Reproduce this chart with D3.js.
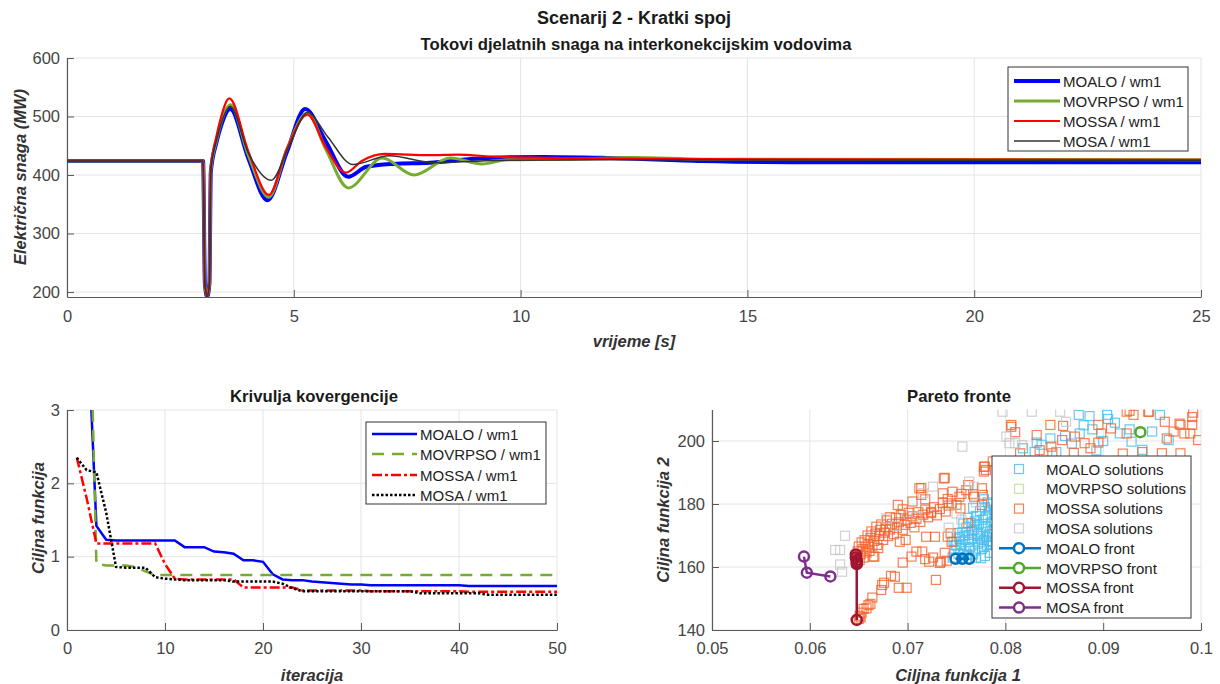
<!DOCTYPE html>
<html><head><meta charset="utf-8">
<script src="https://cdn.jsdelivr.net/npm/d3@7"></script>
<style>body{margin:0;background:#fff;} svg{display:block;font-family:"Liberation Sans",Arial,Helvetica,sans-serif;}</style>
</head><body><svg id="c" width="1220" height="684"></svg>
<script>
// ---------------- DATA ----------------
// Top: active power flow (MW) vs time (s)
const tMOALO   = [0, 3.0, 3.04, 3.09, 3.14, 3.17, 3.3, 3.4, 3.6, 4.0, 4.42, 4.85, 5.25, 5.7, 6.2, 6.6, 7.2, 8.0, 9.0, 10.5, 12, 14, 16, 25];
const pMOALO   = [424, 424, 215, 192, 215, 405, 457, 485, 513, 428, 357, 440, 513, 458, 397, 414, 419, 421, 428, 431, 429, 424, 422, 422];
const tMOVRPSO = [0, 3.0, 3.04, 3.09, 3.14, 3.17, 3.3, 3.4, 3.6, 4.0, 4.45, 4.85, 5.3, 5.7, 6.2, 6.95, 7.65, 8.45, 9.15, 9.7, 11, 12.5, 14, 25];
const pMOVRPSO = [424, 424, 215, 192, 215, 408, 460, 490, 520, 433, 362, 445, 506, 445, 378, 429, 400, 429, 419, 426, 427, 430, 427, 426];
const tMOSSA   = [0, 3.0, 3.04, 3.09, 3.14, 3.17, 3.3, 3.4, 3.58, 4.0, 4.45, 4.85, 5.3, 5.7, 6.15, 6.5, 7.0, 8.0, 8.6, 9.5, 11, 14, 25];
const pMOSSA   = [424, 424, 215, 192, 215, 410, 468, 500, 531, 440, 366, 445, 503, 448, 404, 424, 436, 434, 435, 431, 429, 427, 426];
const tMOSA    = [0, 3.0, 3.04, 3.09, 3.14, 3.17, 3.3, 3.4, 3.6, 4.0, 4.5, 4.9, 5.3, 5.75, 6.3, 7.1, 8.1, 9.5, 12, 25];
const pMOSA    = [424, 424, 215, 192, 215, 408, 460, 488, 517, 437, 391, 450, 507, 465, 418, 433, 421, 425, 426, 425];
const timeTicks  = [0, 5, 10, 15, 20, 25];
const powerTicks = [200, 300, 400, 500, 600];

// Bottom-left: convergence curves
const iterations = [1,2,3,4,5,6,7,8,9,10,11,12,13,14,15,16,17,18,19,20,21,22,23,24,25,26,27,28,29,30,31,32,33,34,35,36,37,38,39,40,41,42,43,44,45,46,47,48,49,50];
const convMOALO   = [7.0,4.5,1.42,1.23,1.22,1.22,1.22,1.22,1.22,1.22,1.22,1.13,1.13,1.13,1.07,1.06,1.04,0.95,0.95,0.93,0.76,0.69,0.68,0.68,0.66,0.65,0.64,0.63,0.62,0.62,0.61,0.61,0.61,0.61,0.61,0.61,0.61,0.61,0.61,0.61,0.60,0.60,0.60,0.60,0.60,0.60,0.60,0.60,0.60,0.60];
const convMOVRPSO = [12.0,6.5,0.90,0.88,0.88,0.88,0.86,0.80,0.75,0.75,0.75,0.75,0.75,0.75,0.75,0.75,0.75,0.75,0.75,0.75,0.75,0.75,0.75,0.75,0.75,0.75,0.75,0.75,0.75,0.75,0.75,0.75,0.75,0.75,0.75,0.75,0.75,0.75,0.75,0.75,0.75,0.75,0.75,0.75,0.75,0.75,0.75,0.75,0.75,0.75];
const convMOSSA   = [2.35,1.80,1.18,1.18,1.18,1.18,1.18,1.18,1.18,0.90,0.70,0.69,0.69,0.69,0.69,0.69,0.69,0.58,0.58,0.58,0.58,0.58,0.58,0.54,0.54,0.54,0.54,0.54,0.54,0.54,0.53,0.53,0.53,0.53,0.53,0.53,0.53,0.53,0.53,0.53,0.52,0.52,0.52,0.52,0.52,0.52,0.52,0.52,0.52,0.52];
const convMOSA    = [2.35,2.18,2.15,1.60,0.86,0.85,0.85,0.85,0.72,0.70,0.69,0.68,0.68,0.68,0.68,0.68,0.66,0.66,0.66,0.66,0.66,0.63,0.57,0.53,0.53,0.53,0.53,0.53,0.53,0.53,0.53,0.53,0.53,0.53,0.53,0.50,0.50,0.50,0.50,0.50,0.50,0.50,0.48,0.48,0.48,0.48,0.48,0.48,0.48,0.48];
const iterTicks = [0, 10, 20, 30, 40, 50];
const convTicks = [0, 1, 2, 3];

// Bottom-right: Pareto fronts
const moaloSolF1 = [0.0746,0.0748,0.0747,0.0750,0.0752,0.0753,0.0755,0.0756,0.0758,0.0759,0.0760,0.0761,0.0763,0.0764,0.0765,0.0766,0.0768,0.0769,0.0770,0.0771,0.0772,0.0773,0.0774,0.0775,0.0776,0.0777,0.0778,0.0779,0.0780,0.0781,0.0782,0.0783,0.0784,0.0785,0.0786,0.0787,0.0788,0.0789,0.0760,0.0770,0.0757,0.0767,0.0779,0.0784,0.0751,0.0762,0.0775,0.0786,
  0.0749,0.0754,0.0758,0.0762,0.0766,0.0771,0.0774,0.0778,0.0781,0.0785,0.0788,0.0753,0.0757,0.0763,0.0767,0.0772,0.0776,0.0780,0.0783,0.0787,0.0769,0.0782,0.0778,0.0790,
  0.0875,0.0886,0.0904,0.0905,0.0958,0.0889,0.0876,0.0927,0.0950,0.0929,0.0917,0.0967,0.0832,0.0846,0.0861,0.0818,0.0837,0.0868,0.0900,0.0852,0.0893,0.0940,0.0880,0.0912,0.0830];
const moaloSolF2 = [163.0,165.5,168.0,166.8,164.2,169.5,167.2,171.0,165.0,168.6,172.5,163.8,170.2,166.3,174.0,168.9,172.0,165.2,176.2,169.8,167.4,173.6,177.8,171.2,165.8,175.0,168.5,179.0,172.8,166.9,176.5,170.3,178.2,174.1,168.0,180.0,172.0,176.8,162.6,163.0,173.8,178.8,163.5,164.5,170.8,175.6,162.8,171.5,
  167.0,166.0,170.0,168.0,171.5,172.8,169.0,166.5,169.5,167.0,174.5,169.0,164.0,165.8,164.0,170.5,167.8,175.8,168.2,170.5,174.5,180.5,181.5,178.0,
  208.3,207.9,208.3,207.0,208.3,203.7,202.4,203.7,203.0,199.8,202.4,200.3,199.5,200.8,201.6,197.7,198.8,199.2,200.0,196.5,197.0,197.2,205.0,205.8,196.5];
const movrpsoSolF1 = [0.0938];
const movrpsoSolF2 = [202.8];
const mossaSolF1 = [0.0650,0.0652,0.0651,0.0653,0.0655,0.0658,0.0660,0.0662,0.0664,0.0673,0.0674,0.0676,0.0683,0.0687,0.0691,0.0699,0.0695,0.0704,0.0715,0.0718,0.0726,0.0729,0.0733,0.0740,0.0738,
  0.0648,0.0649,0.0650,0.0651,0.0652,0.0653,0.0654,0.0655,0.0656,0.0657,0.0658,0.0659,0.0660,0.0661,0.0662,0.0663,0.0664,0.0666,0.0667,0.0668,0.0669,0.0671,0.0672,0.0673,0.0675,0.0676,0.0678,0.0679,0.0680,0.0682,0.0684,0.0686,0.0688,0.0689,0.0691,0.0693,0.0695,0.0697,0.0699,0.0701,0.0703,0.0705,0.0707,0.0709,0.0711,0.0713,0.0716,0.0718,0.0721,0.0724,0.0727,0.0730,0.0733,0.0736,0.0739,0.0742,
  0.0690,0.0714,0.0714,0.0738,0.0724,0.0698,0.0692,0.0666,0.0670,0.0728,0.0734,0.0722,0.0744,0.0777,0.0776,0.0768,0.0754,0.0745,0.0746,0.0755,0.0736,0.0762,0.0778,0.0778,0.0737,0.0712,0.0682,0.0695,0.0705,0.0718,0.0741,0.0750,0.0760,0.0767,0.0776,0.0753,0.0762,0.0741,0.0745,0.0719,0.0709,0.0665,
  0.0806,0.0846,0.0924,0.0931,0.0946,0.0992,0.0979,0.0991,0.0895,0.0908,0.0898,0.0924,0.0963,0.0972,0.0989,0.0965,0.0832,0.0859,0.0871,0.0858,0.0881,0.0895,0.0815,0.0835,0.0847,0.0848,0.0887,0.0960,0.0979,0.0997,0.0983,0.0927,0.0947,0.0991,0.0978,0.0806,0.0940,0.0920,0.0870,0.0810,0.0787,0.0779,0.0780];
const mossaSolF2 = [143.5,144.0,144.5,145.5,146.7,146.9,147.9,148.3,150.3,152.7,154.3,155.0,157.2,156.9,153.4,153.4,161.4,163.3,164.9,162.5,163.0,155.9,161.3,162.0,164.5,
  163.5,165.0,166.5,162.2,164.0,167.8,165.6,163.0,168.5,166.4,164.6,170.0,167.3,165.1,169.2,171.3,166.8,168.3,170.6,172.8,167.0,169.9,171.8,173.5,168.6,170.9,172.6,174.8,169.8,171.9,173.7,170.4,175.6,172.4,174.2,176.5,171.8,173.4,175.0,177.2,174.0,176.1,172.6,175.3,177.4,174.3,176.6,178.2,175.8,177.5,179.0,176.4,178.4,180.3,177.6,179.5,
  179.7,185.1,182.9,188.3,177.1,168.6,168.0,163.3,166.0,169.6,161.7,161.7,170.7,182.9,179.7,182.3,178.6,180.2,183.9,183.2,183.4,186.0,191.8,190.3,188.1,185.0,175.8,178.3,180.8,181.5,181.6,179.7,184.4,183.1,185.0,182.3,173.9,169.6,168.0,169.6,164.9,163.3,
  205.1,205.1,209.3,208.3,209.3,209.0,205.1,205.1,205.1,204.0,202.4,202.4,206.1,203.0,202.4,200.8,201.9,204.8,201.4,200.3,199.3,199.5,196.1,197.1,198.2,196.1,197.7,196.1,196.1,200.3,202.4,209.6,209.3,207.6,205.5,204.5,196.5,196.0,196.2,202.8,193.5,191.9,190.8];
const mosaSolF1 = [0.0636,0.0626,0.0631,0.0631,0.0633,0.0756,0.0726,0.0763,0.0768,0.0716,0.0678,0.0797,0.0827,0.0856,0.0801,0.0810,0.0804,0.0817,0.0862,0.0755,0.0742,0.0770,0.0750,0.0709,0.0688];
const mosaSolF2 = [169.9,165.4,165.4,160.8,158.5,198.2,185.5,187.1,185.5,183.4,175.4,209.3,209.3,209.3,201.4,199.3,199.3,198.7,206.1,175.0,172.5,180.5,177.0,176.0,173.0];
const moaloFrontF1   = [0.0749, 0.0756, 0.0763];
const moaloFrontF2   = [162.6, 162.6, 162.6];
const movrpsoFrontF1 = [0.0938];
const movrpsoFrontF2 = [202.8];
const mossaFrontF1   = [0.0647, 0.0647, 0.0648, 0.0648, 0.0648, 0.0648];
const mossaFrontF2   = [164.0, 163.0, 162.2, 161.5, 160.9, 143.2];
const mosaFrontF1    = [0.0594, 0.0597, 0.0621];
const mosaFrontF2    = [163.3, 158.2, 157.0];
const f1Ticks = [0.05, 0.06, 0.07, 0.08, 0.09, 0.1];
const f2Ticks = [140, 160, 180, 200];

// ---------------- DRAWING ----------------
const svg = d3.select("#c");
const AX = "#5a5a5a", TXT = "#454545", GRID = "#e4e4e4";

function frame(x, y, xTicks, yTicks, xPad, clipId) {
  const g = svg.append("g");
  const [y0, y1] = y.range(), [x0, x1] = x.range();
  g.selectAll(".gx").data(xTicks).join("line")
    .attr("x1", d => x(d)).attr("x2", d => x(d)).attr("y1", y0).attr("y2", y1)
    .attr("stroke", GRID).attr("stroke-width", 1);
  g.selectAll(".gy").data(yTicks).join("line")
    .attr("x1", x0).attr("x2", x1).attr("y1", d => y(d)).attr("y2", d => y(d))
    .attr("stroke", GRID).attr("stroke-width", 1);
  const ax = g.append("g").attr("transform", `translate(0,${y0})`)
    .call(d3.axisBottom(x).tickValues(xTicks).tickFormat(d => String(d)).tickSizeInner(-7).tickSizeOuter(0).tickPadding(xPad));
  const ay = g.append("g").attr("transform", `translate(${x0},0)`)
    .call(d3.axisLeft(y).tickValues(yTicks).tickFormat(d => String(d)).tickSizeInner(-7).tickSizeOuter(0).tickPadding(7));
  [ax, ay].forEach(a => {
    a.select(".domain").attr("stroke", AX).attr("stroke-width", 1.2);
    a.selectAll(".tick line").attr("stroke", AX);
    a.selectAll(".tick text").attr("fill", TXT).attr("font-size", 16.5)
      .attr("font-family", '"Liberation Sans", Arial, sans-serif');
  });
  svg.append("clipPath").attr("id", clipId).append("rect")
    .attr("x", x0).attr("y", y1).attr("width", x1 - x0).attr("height", y0 - y1);
}

function text(x, y, s, opts = {}) {
  const t = svg.append("text").attr("x", x).attr("y", y).text(s)
    .attr("font-size", opts.size || 15).attr("fill", opts.fill || "#1a1a1a")
    .attr("text-anchor", opts.anchor || "middle")
    .attr("dominant-baseline", "central");
  if (opts.bold) t.attr("font-weight", "bold");
  if (opts.italic) t.attr("font-style", "italic");
  if (opts.rotate) t.attr("transform", `rotate(-90,${x},${y})`);
  return t;
}

// ---- Top panel ----
const xT = d3.scaleLinear().domain([0, 25]).range([67, 1201]);
const yT = d3.scaleLinear().domain([191.5, 600]).range([297, 58]);
frame(xT, yT, timeTicks, powerTicks, 13, "clipTop");
const topSeries = [
  {t: tMOALO, p: pMOALO, c: "#0000ff", w: 4, name: "MOALO / wm1"},
  {t: tMOVRPSO, p: pMOVRPSO, c: "#77ac30", w: 3, name: "MOVRPSO / wm1"},
  {t: tMOSSA, p: pMOSSA, c: "#ff0000", w: 2.2, name: "MOSSA / wm1"},
  {t: tMOSA, p: pMOSA, c: "#333333", w: 1.5, name: "MOSA / wm1"}
];
const lineT = d3.line().x(d => xT(d[0])).y(d => yT(d[1])).curve(d3.curveMonotoneX);
const gTop = svg.append("g").attr("clip-path", "url(#clipTop)");
topSeries.forEach(s => {
  gTop.append("path").datum(s.t.map((t, i) => [t, s.p[i]]))
    .attr("d", lineT).attr("fill", "none").attr("stroke", s.c).attr("stroke-width", s.w)
    .attr("stroke-linejoin", "round");
});
// top legend
svg.append("rect").attr("x", 1008).attr("y", 67).attr("width", 180).attr("height", 84)
  .attr("fill", "#fff").attr("stroke", "#333").attr("stroke-width", 1);
topSeries.forEach((s, i) => {
  const yy = 81 + i * 20;
  svg.append("line").attr("x1", 1014).attr("x2", 1060).attr("y1", yy).attr("y2", yy)
    .attr("stroke", s.c).attr("stroke-width", s.w);
  text(1063, yy, s.name, {anchor: "start", size: 15, fill: "#222"});
});
text(634, 18, "Scenarij 2 - Kratki spoj", {bold: true, size: 18});
text(636, 44, "Tokovi djelatnih snaga na interkonekcijskim vodovima", {bold: true, size: 16.7});
text(634, 341, "vrijeme [s]", {bold: true, italic: true, size: 16.5, fill: "#333"});
text(20, 177, "Električna snaga (MW)", {bold: true, italic: true, size: 16.5, fill: "#333", rotate: true});

// ---- Bottom-left panel ----
const xL = d3.scaleLinear().domain([0, 50]).range([67, 557]);
const yL = d3.scaleLinear().domain([0, 3]).range([630, 410]);
frame(xL, yL, iterTicks, convTicks, 12, "clipBL");
const convSeries = [
  {v: convMOALO, c: "#0000ff", dash: null, name: "MOALO / wm1"},
  {v: convMOVRPSO, c: "#77ac30", dash: "12,8", name: "MOVRPSO / wm1"},
  {v: convMOSSA, c: "#ff0000", dash: "10,3,3,3", name: "MOSSA / wm1"},
  {v: convMOSA, c: "#000000", dash: "2.5,2", name: "MOSA / wm1"}
];
const lineL = d3.line().x(d => xL(d[0])).y(d => yL(d[1]));
const gBL = svg.append("g").attr("clip-path", "url(#clipBL)");
convSeries.forEach(s => {
  const p = gBL.append("path").datum(iterations.map((it, i) => [it, s.v[i]]))
    .attr("d", lineL).attr("fill", "none").attr("stroke", s.c).attr("stroke-width", 2.5);
  if (s.dash) p.attr("stroke-dasharray", s.dash);
});
svg.append("rect").attr("x", 366).attr("y", 422).attr("width", 180).attr("height", 82)
  .attr("fill", "#fff").attr("stroke", "#333").attr("stroke-width", 1);
[434, 454, 475, 495].forEach((yy, i) => {
  const s = convSeries[i];
  const l = svg.append("line").attr("x1", 372).attr("x2", 417).attr("y1", yy).attr("y2", yy)
    .attr("stroke", s.c).attr("stroke-width", 2.5);
  if (s.dash) l.attr("stroke-dasharray", s.dash);
  text(420, yy, s.name, {anchor: "start", size: 15, fill: "#222"});
});
text(314, 396, "Krivulja kovergencije", {bold: true, size: 16.7});
text(312, 675, "iteracija", {bold: true, italic: true, size: 16.5, fill: "#333"});
text(38, 518, "Ciljna funkcija", {bold: true, italic: true, size: 16.5, fill: "#333", rotate: true});

// ---- Bottom-right panel ----
const xR = d3.scaleLinear().domain([0.05, 0.1]).range([712, 1201]);
const yR = d3.scaleLinear().domain([140, 210]).range([630, 409.5]);
frame(xR, yR, f1Ticks, f2Ticks, 12, "clipBR");
const gBR = svg.append("g").attr("clip-path", "url(#clipBR)");
const solSeries = [
  {f1: moaloSolF1, f2: moaloSolF2, c: "#4dbeee", o: 0.85, name: "MOALO solutions"},
  {f1: movrpsoSolF1, f2: movrpsoSolF2, c: "#b8dc8f", o: 0.8, name: "MOVRPSO solutions"},
  {f1: mossaSolF1, f2: mossaSolF2, c: "#f2612c", o: 0.8, name: "MOSSA solutions"},
  {f1: mosaSolF1, f2: mosaSolF2, c: "#c4c4c4", o: 0.8, name: "MOSA solutions"}
];
const SQ = 9;
solSeries.forEach(s => {
  gBR.append("g").selectAll("rect").data(s.f1.map((a, i) => [a, s.f2[i]])).join("rect")
    .attr("x", d => xR(d[0]) - SQ / 2).attr("y", d => yR(d[1]) - SQ / 2)
    .attr("width", SQ).attr("height", SQ).attr("fill", "none")
    .attr("stroke", s.c).attr("stroke-opacity", s.o).attr("stroke-width", 1.2);
});
const frontSeries = [
  {f1: moaloFrontF1, f2: moaloFrontF2, c: "#0072bd", name: "MOALO front"},
  {f1: movrpsoFrontF1, f2: movrpsoFrontF2, c: "#4daa2a", name: "MOVRPSO front"},
  {f1: mossaFrontF1, f2: mossaFrontF2, c: "#a2142f", name: "MOSSA front"},
  {f1: mosaFrontF1, f2: mosaFrontF2, c: "#7e2f8e", name: "MOSA front"}
];
const lineR = d3.line().x(d => xR(d[0])).y(d => yR(d[1]));
frontSeries.forEach(s => {
  const pts = s.f1.map((a, i) => [a, s.f2[i]]);
  gBR.append("path").datum(pts).attr("d", lineR).attr("fill", "none")
    .attr("stroke", s.c).attr("stroke-width", 2.5);
  gBR.append("g").selectAll("circle").data(pts).join("circle")
    .attr("cx", d => xR(d[0])).attr("cy", d => yR(d[1])).attr("r", 5)
    .attr("fill", "none").attr("stroke", s.c).attr("stroke-width", 2.5);
});
// legend
svg.append("rect").attr("x", 992).attr("y", 456).attr("width", 199).attr("height", 162)
  .attr("fill", "#fff").attr("stroke", "#333").attr("stroke-width", 1);
solSeries.forEach((s, i) => {
  const yy = 469 + i * 19.8;
  svg.append("rect").attr("x", 1019 - SQ / 2).attr("y", yy - SQ / 2).attr("width", SQ).attr("height", SQ)
    .attr("fill", "none").attr("stroke", s.c).attr("stroke-opacity", s.o).attr("stroke-width", 1.2);
  text(1046, yy, s.name, {anchor: "start", size: 15, fill: "#222"});
});
frontSeries.forEach((s, i) => {
  const yy = 469 + (i + 4) * 19.8;
  svg.append("line").attr("x1", 999).attr("x2", 1041).attr("y1", yy).attr("y2", yy)
    .attr("stroke", s.c).attr("stroke-width", 2.5);
  svg.append("circle").attr("cx", 1019).attr("cy", yy).attr("r", 5)
    .attr("fill", "#fff").attr("stroke", s.c).attr("stroke-width", 2.5);
  text(1046, yy, s.name, {anchor: "start", size: 15, fill: "#222"});
});
text(959, 396, "Pareto fronte", {bold: true, size: 16.7});
text(958, 675, "Ciljna funkcija 1", {bold: true, italic: true, size: 16.5, fill: "#333"});
text(663, 520, "Ciljna funkcija 2", {bold: true, italic: true, size: 16.5, fill: "#333", rotate: true});
</script></body></html>
